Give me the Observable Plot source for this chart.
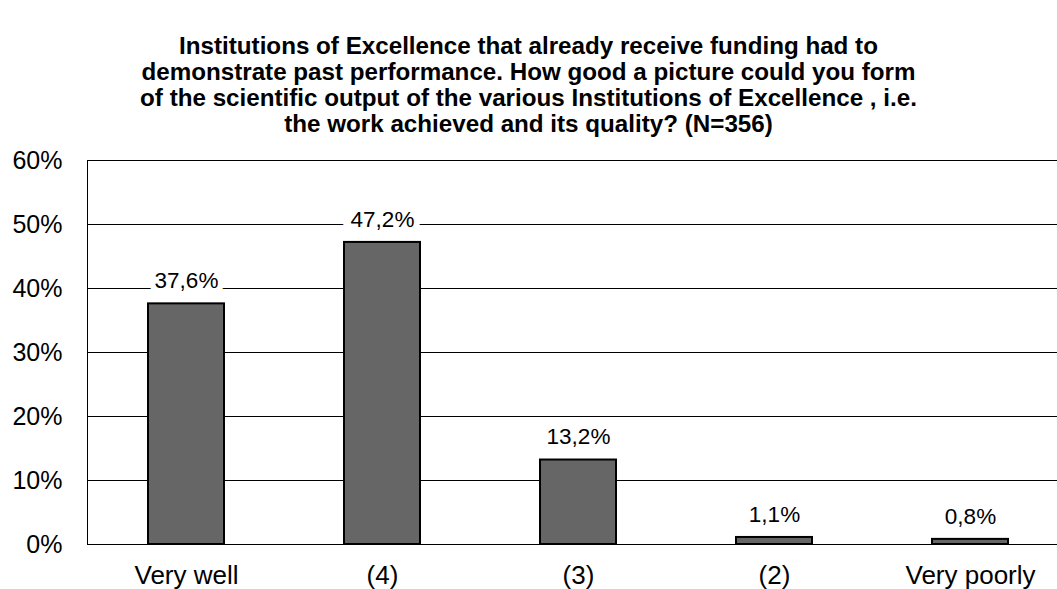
<!DOCTYPE html>
<html>
<head>
<meta charset="utf-8">
<script src="https://cdn.jsdelivr.net/npm/d3@7"></script>
<script src="https://cdn.jsdelivr.net/npm/@observablehq/plot@0.6"></script>
<style>
  body { margin: 0; background: #fff; font-family: "Liberation Sans", Arial, sans-serif; }
  #title { width: 1057px; height: 140px; box-sizing: border-box; padding-top: 33px; text-align: center;
           font-weight: bold; font-size: 24.2px; line-height: 26px; color: #000; white-space: nowrap; }
  svg { display: block; }
</style>
</head>
<body>
<div id="title">Institutions of Excellence that already receive funding had to<br>demonstrate past performance. How good a picture could you form<br>of the scientific output of the various Institutions of Excellence , i.e.<br>the work achieved and its quality? (N=356)</div>
<div id="chart"></div>
<script>
const categories = ["Very well", "(4)", "(3)", "(2)", "Very poorly"];
const values = [37.6, 47.2, 13.2, 1.1, 0.8];
const labels = ["37,6%", "47,2%", "13,2%", "1,1%", "0,8%"];
const yTicks = [0, 10, 20, 30, 40, 50, 60];

const data = categories.map((c, i) => ({cat: c, value: values[i], label: labels[i]}));

const chart = Plot.plot({
  width: 1057,
  height: 449,
  marginTop: 20,
  marginBottom: 45,
  marginLeft: 87,
  marginRight: 0,
  style: {fontFamily: "'Liberation Sans', Arial, sans-serif", fontSize: "24px", color: "#000", background: "#fff"},
  x: {domain: categories, range: [87, 1068], paddingInner: 0.6126, paddingOuter: 0.306, label: null},
  y: {domain: [0, 60], label: null},
  marks: [
    Plot.gridY(yTicks, {stroke: "#000", strokeOpacity: 1, strokeWidth: 1}),
    Plot.axisY(yTicks, {tickSize: 0, tickPadding: 25, tickFormat: d => d + "%", fontSize: 25}),
    Plot.axisX({tickSize: 0, tickPadding: 21, fontSize: 26}),
    Plot.frame({anchor: "left", stroke: "#000"}),
    Plot.text(data, {x: "cat", y: "value", text: "label", dy: -23, lineAnchor: "middle",
      fill: "white", stroke: "white", strokeWidth: 12, strokeLinejoin: "miter", fontSize: 22.5}),
    Plot.text(data, {x: "cat", y: "value", text: "label", dy: -23, lineAnchor: "middle",
      fill: "#000", fontSize: 22.5}),
    Plot.barY(data, {x: "cat", y: "value", fill: "#666666", stroke: "#000", strokeWidth: 2})
  ]
});
document.getElementById("chart").appendChild(chart);
</script>
</body>
</html>
